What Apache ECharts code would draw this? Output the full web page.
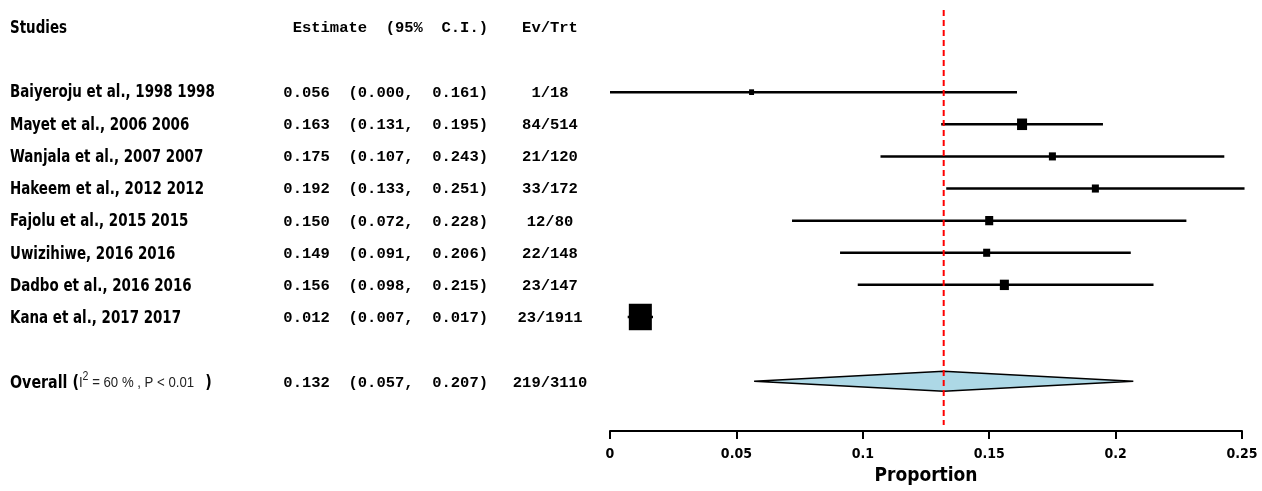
<!DOCTYPE html>
<html><head><meta charset="utf-8">
<script src="https://cdn.jsdelivr.net/npm/echarts@6/dist/echarts.min.js"></script>
<style>html,body{margin:0;padding:0;background:#fff}#c{width:1262px;height:491px}</style>
</head><body><div id="c"></div>
<script>
// ---- data ----
const studies = ["Baiyeroju et al., 1998 1998","Mayet et al., 2006 2006","Wanjala et al., 2007 2007","Hakeem et al., 2012 2012","Fajolu et al., 2015 2015","Uwizihiwe, 2016 2016","Dadbo et al., 2016 2016","Kana et al., 2017 2017"];
const estimates = [0.056,0.163,0.175,0.192,0.150,0.149,0.156,0.012];
const ciLower   = [0.000,0.131,0.107,0.133,0.072,0.091,0.098,0.007];
const ciUpper   = [0.161,0.195,0.243,0.251,0.228,0.206,0.215,0.017];
const events    = [1,84,21,33,12,22,23,23];
const totals    = [18,514,120,172,80,148,147,1911];
const weights   = [2.6,10.6,5.2,5.2,6.8,5.2,8.6,55.9];
const overallEstimate = [0.132, 0.057, 0.207];   // est, lower, upper
const overallCounts = [219, 3110];
const heterogeneity = ["60 %", "P < 0.01"];
const headers = ["Studies", "Estimate  (95%  C.I.)", "Ev/Trt"];
const xTicks = [0, 0.05, 0.1, 0.15, 0.2, 0.25];
const axisName = "Proportion";

// ---- layout helpers ----
const narrow = "'Liberation Sans Narrow','DejaVu Sans Condensed','Roboto Condensed',sans-serif";
const mono = "'Liberation Mono','DejaVu Sans Mono',monospace";
const fmt = v => v.toFixed(3);
const estText = (e, l, u) => `${fmt(e)}  (${fmt(l)},  ${fmt(u)})`;

const table = [];
table.push({row:0, cells:[headers[0], headers[1], headers[2]], header:true});
studies.forEach((s, i) => table.push({row:i+2, cells:[s, estText(estimates[i], ciLower[i], ciUpper[i]), events[i] + "/" + totals[i]]}));
table.push({row:11, cells:["__overall__", estText(overallEstimate[0], overallEstimate[1], overallEstimate[2]), overallCounts[0] + "/" + overallCounts[1]], overall:true});

const yMin = -0.87, yMax = 12.55;
const yAxisCfg = gi => ({type:'value', gridIndex:gi, min:yMin, max:yMax, inverse:true, show:false});

const colX = [10, 488, 550];
const colAlign = ['left', 'right', 'center'];

function textSeries(col) {
  return {
    type:'custom', xAxisIndex:1, yAxisIndex:1, silent:true, clip:false,
    data: table.map(t => [colX[col], t.row]),
    renderItem: (params, api) => {
      const t = table[params.dataIndex];
      const p = api.coord([api.value(0), api.value(1)]);
      if (col === 0 && t.overall) {
        return {type:'text', x:p[0], y:p[1], scaleX:0.88, style:{
          text:`{b|Overall (}{r|I}{sup|2}{r| = ${heterogeneity[0]} , ${heterogeneity[1]}   }{b|)}`,
          textAlign:'left', textVerticalAlign:'middle',
          rich:{
            b:{font:`bold 18px ${narrow}`, fill:'#000'},
            r:{font:`15px 'Liberation Sans', Arial, sans-serif`, fill:'#222'},
            sup:{font:`12px 'Liberation Sans', Arial, sans-serif`, fill:'#222', padding:[0,0,12,0], verticalAlign:'bottom'}
          }
        }};
      }
      if (col === 0) {
        return {type:'text', x:p[0], y:p[1], scaleX:0.83, style:{
          text:t.cells[col], font:`bold 18px ${narrow}`, fill:'#000',
          textAlign:'left', textVerticalAlign:'middle'
        }};
      }
      return {type:'text', x:p[0], y:p[1], style:{
        text:t.cells[col], font:`bold 15.5px ${mono}`, fill:'#000',
        textAlign:colAlign[col], textVerticalAlign:'middle'
      }};
    }
  };
}

const option = {
  animation:false,
  backgroundColor:'#fff',
  grid:[
    {left:610, right:20, top:0, bottom:58},
    {left:0, width:605, top:0, bottom:58}
  ],
  xAxis:[
    {type:'value', gridIndex:0, position:'bottom', min:xTicks[0], max:xTicks[xTicks.length-1], interval:0.05,
     splitLine:{show:false},
     axisLine:{show:true, onZero:false, lineStyle:{color:'#000', width:2}},
     axisTick:{show:true, length:8, lineStyle:{color:'#000', width:2}},
     axisLabel:{color:'#000', fontFamily:narrow, fontWeight:'bold', fontSize:14, margin:16},
     name:axisName, nameLocation:'middle', nameGap:36,
     nameTextStyle:{color:'#000', fontFamily:narrow, fontWeight:'bold', fontSize:19}
    },
    {type:'value', gridIndex:1, min:0, max:605, show:false}
  ],
  yAxis:[yAxisCfg(0), yAxisCfg(1)],
  series:[
    {
      type:'line', xAxisIndex:0, yAxisIndex:0, symbol:'none', silent:true,
      data:[[overallEstimate[0], -0.56], [overallEstimate[0], 12.36]],
      lineStyle:{color:'#ff0000', width:2, type:[6,4]}
    },
    {
      type:'custom', xAxisIndex:0, yAxisIndex:0, silent:true, clip:false,
      data: studies.map((s, i) => [estimates[i], ciLower[i], ciUpper[i], i+2, weights[i]]),
      renderItem: (params, api) => {
        const row = api.value(3);
        const p = api.coord([api.value(0), row]);
        const a = api.coord([api.value(1), row]);
        const b = api.coord([api.value(2), row]);
        const s = 3.08 * Math.sqrt(api.value(4));
        const h = s * 1.15;
        return {type:'group', children:[
          {type:'line', shape:{x1:a[0], y1:a[1], x2:b[0], y2:b[1]}, style:{stroke:'#000', lineWidth:2.5}},
          {type:'rect', shape:{x:p[0]-s/2, y:p[1]-h/2, width:s, height:h}, style:{fill:'#000'}}
        ]};
      }
    },
    {
      type:'custom', xAxisIndex:0, yAxisIndex:0, silent:true,
      data:[[overallEstimate[0], overallEstimate[1], overallEstimate[2], 11]],
      renderItem: (params, api) => {
        const row = api.value(3);
        const c = api.coord([api.value(0), row]);
        const l = api.coord([api.value(1), row]);
        const u = api.coord([api.value(2), row]);
        const hh = 10;
        return {type:'polygon', shape:{points:[[l[0], c[1]], [c[0], c[1]-hh], [u[0], c[1]], [c[0], c[1]+hh]]},
          style:{fill:'#add8e6', stroke:'#000', lineWidth:1.5}};
      }
    },
    textSeries(0), textSeries(1), textSeries(2)
  ]
};
const chart = echarts.init(document.getElementById('c'), null, {renderer:'canvas'});
chart.setOption(option);
</script>
</body></html>
